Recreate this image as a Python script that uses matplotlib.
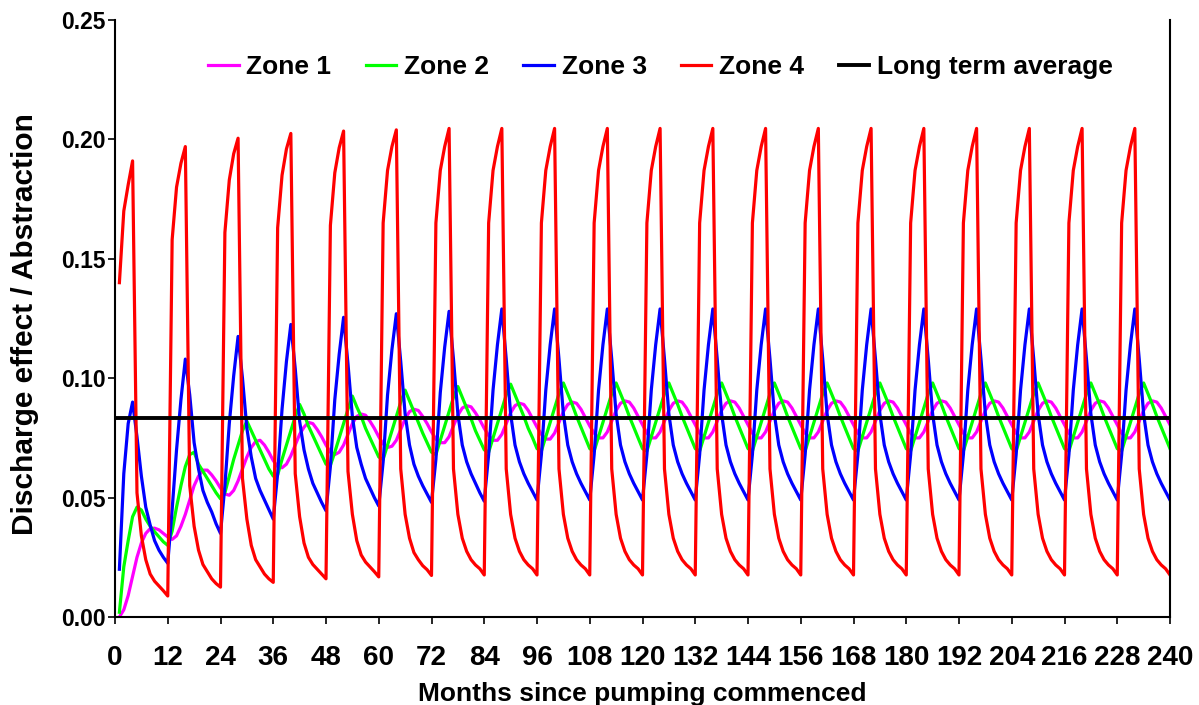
import numpy as np
import matplotlib
matplotlib.use('Agg')
import matplotlib.pyplot as plt

plt.rcParams['font.family'] = ['Liberation Sans', 'DejaVu Sans']
plt.rcParams['font.weight'] = 'bold'

# one row per year, months 1..12 of that year
zone1 = [
    [0.000, 0.003, 0.009, 0.017, 0.025, 0.031, 0.035, 0.037, 0.0372, 0.0365, 0.035, 0.0335],
    [0.0325, 0.034, 0.038, 0.043, 0.049, 0.055, 0.059, 0.0615, 0.0615, 0.0595, 0.057, 0.054],
    [0.0515, 0.051, 0.053, 0.057, 0.062, 0.067, 0.071, 0.0735, 0.074, 0.072, 0.069, 0.0655],
    [0.063, 0.0625, 0.064, 0.0675, 0.072, 0.0765, 0.0795, 0.0815, 0.081, 0.0785, 0.0755, 0.072],
    [0.069, 0.068, 0.069, 0.072, 0.0765, 0.081, 0.084, 0.085, 0.0845, 0.082, 0.079, 0.0755],
    [0.0725, 0.071, 0.0715, 0.074, 0.0785, 0.083, 0.086, 0.087, 0.0865, 0.084, 0.081, 0.0775],
    [0.0745, 0.073, 0.073, 0.0755, 0.080, 0.0845, 0.0875, 0.0885, 0.088, 0.0855, 0.0825, 0.079],
    [0.076, 0.074, 0.074, 0.0765, 0.081, 0.0855, 0.0885, 0.0895, 0.089, 0.0865, 0.083, 0.0795],
    [0.0765, 0.0745, 0.0745, 0.077, 0.0815, 0.086, 0.089, 0.090, 0.0895, 0.087, 0.0835, 0.080],
    [0.077, 0.075, 0.075, 0.0775, 0.082, 0.0865, 0.0895, 0.0905, 0.090, 0.0875, 0.084, 0.0805],
    [0.077, 0.075, 0.075, 0.0775, 0.082, 0.0865, 0.0895, 0.0905, 0.090, 0.0875, 0.084, 0.0805],
    [0.077, 0.075, 0.075, 0.0775, 0.082, 0.0865, 0.0895, 0.0905, 0.090, 0.0875, 0.084, 0.0805],
    [0.077, 0.075, 0.075, 0.0775, 0.082, 0.0865, 0.0895, 0.0905, 0.090, 0.0875, 0.084, 0.0805],
    [0.077, 0.075, 0.075, 0.0775, 0.082, 0.0865, 0.0895, 0.0905, 0.090, 0.0875, 0.084, 0.0805],
    [0.077, 0.075, 0.075, 0.0775, 0.082, 0.0865, 0.0895, 0.0905, 0.090, 0.0875, 0.084, 0.0805],
    [0.077, 0.075, 0.075, 0.0775, 0.082, 0.0865, 0.0895, 0.0905, 0.090, 0.0875, 0.084, 0.0805],
    [0.077, 0.075, 0.075, 0.0775, 0.082, 0.0865, 0.0895, 0.0905, 0.090, 0.0875, 0.084, 0.0805],
    [0.077, 0.075, 0.075, 0.0775, 0.082, 0.0865, 0.0895, 0.0905, 0.090, 0.0875, 0.084, 0.0805],
    [0.077, 0.075, 0.075, 0.0775, 0.082, 0.0865, 0.0895, 0.0905, 0.090, 0.0875, 0.084, 0.0805],
    [0.077, 0.075, 0.075, 0.0775, 0.082, 0.0865, 0.0895, 0.0905, 0.090, 0.0875, 0.084, 0.0805],
]

zone2 = [
    [0.002, 0.021, 0.032, 0.042, 0.046, 0.0448, 0.041, 0.038, 0.0357, 0.0336, 0.0315, 0.030],
    [0.036, 0.046, 0.055, 0.063, 0.068, 0.069, 0.064, 0.061, 0.058, 0.055, 0.052, 0.0495],
    [0.052, 0.059, 0.066, 0.072, 0.078, 0.082, 0.078, 0.074, 0.070, 0.066, 0.062, 0.059],
    [0.0595, 0.066, 0.072, 0.078, 0.084, 0.089, 0.085, 0.080, 0.076, 0.072, 0.068, 0.064],
    [0.0635, 0.069, 0.075, 0.081, 0.087, 0.0925, 0.088, 0.084, 0.079, 0.075, 0.071, 0.067],
    [0.066, 0.072, 0.078, 0.084, 0.090, 0.095, 0.0905, 0.086, 0.0815, 0.077, 0.073, 0.069],
    [0.068, 0.074, 0.080, 0.086, 0.092, 0.0965, 0.092, 0.0875, 0.083, 0.078, 0.074, 0.070],
    [0.069, 0.075, 0.081, 0.087, 0.093, 0.0975, 0.093, 0.0885, 0.084, 0.079, 0.075, 0.0705],
    [0.0695, 0.0755, 0.0815, 0.0875, 0.0935, 0.098, 0.0935, 0.089, 0.084, 0.0795, 0.075, 0.0705],
    [0.0695, 0.0755, 0.0815, 0.0875, 0.0935, 0.098, 0.0935, 0.089, 0.084, 0.0795, 0.075, 0.0705],
    [0.0695, 0.0755, 0.0815, 0.0875, 0.0935, 0.098, 0.0935, 0.089, 0.084, 0.0795, 0.075, 0.0705],
    [0.0695, 0.0755, 0.0815, 0.0875, 0.0935, 0.098, 0.0935, 0.089, 0.084, 0.0795, 0.075, 0.0705],
    [0.0695, 0.0755, 0.0815, 0.0875, 0.0935, 0.098, 0.0935, 0.089, 0.084, 0.0795, 0.075, 0.0705],
    [0.0695, 0.0755, 0.0815, 0.0875, 0.0935, 0.098, 0.0935, 0.089, 0.084, 0.0795, 0.075, 0.0705],
    [0.0695, 0.0755, 0.0815, 0.0875, 0.0935, 0.098, 0.0935, 0.089, 0.084, 0.0795, 0.075, 0.0705],
    [0.0695, 0.0755, 0.0815, 0.0875, 0.0935, 0.098, 0.0935, 0.089, 0.084, 0.0795, 0.075, 0.0705],
    [0.0695, 0.0755, 0.0815, 0.0875, 0.0935, 0.098, 0.0935, 0.089, 0.084, 0.0795, 0.075, 0.0705],
    [0.0695, 0.0755, 0.0815, 0.0875, 0.0935, 0.098, 0.0935, 0.089, 0.084, 0.0795, 0.075, 0.0705],
    [0.0695, 0.0755, 0.0815, 0.0875, 0.0935, 0.098, 0.0935, 0.089, 0.084, 0.0795, 0.075, 0.0705],
    [0.0695, 0.0755, 0.0815, 0.0875, 0.0935, 0.098, 0.0935, 0.089, 0.084, 0.0795, 0.075, 0.0705],
]

zone3 = [
    [0.020, 0.060, 0.081, 0.090, 0.0755, 0.059, 0.046, 0.0385, 0.032, 0.028, 0.025, 0.0225],
    [0.045, 0.070, 0.091, 0.108, 0.093, 0.073, 0.062, 0.053, 0.048, 0.044, 0.039, 0.035],
    [0.055, 0.081, 0.101, 0.1175, 0.100, 0.079, 0.067, 0.058, 0.053, 0.049, 0.045, 0.041],
    [0.060, 0.087, 0.107, 0.1225, 0.104, 0.082, 0.070, 0.062, 0.056, 0.052, 0.048, 0.0445],
    [0.063, 0.091, 0.110, 0.1255, 0.106, 0.084, 0.071, 0.064, 0.058, 0.054, 0.050, 0.0465],
    [0.065, 0.093, 0.112, 0.127, 0.107, 0.085, 0.072, 0.064, 0.059, 0.055, 0.0515, 0.048],
    [0.066, 0.094, 0.113, 0.128, 0.108, 0.085, 0.072, 0.065, 0.060, 0.056, 0.052, 0.0485],
    [0.068, 0.095, 0.114, 0.129, 0.108, 0.085, 0.072, 0.065, 0.060, 0.056, 0.0525, 0.049],
    [0.068, 0.095, 0.114, 0.129, 0.108, 0.085, 0.072, 0.065, 0.060, 0.056, 0.0525, 0.049],
    [0.068, 0.095, 0.114, 0.129, 0.108, 0.085, 0.072, 0.065, 0.060, 0.056, 0.0525, 0.049],
    [0.068, 0.095, 0.114, 0.129, 0.108, 0.085, 0.072, 0.065, 0.060, 0.056, 0.0525, 0.049],
    [0.068, 0.095, 0.114, 0.129, 0.108, 0.085, 0.072, 0.065, 0.060, 0.056, 0.0525, 0.049],
    [0.068, 0.095, 0.114, 0.129, 0.108, 0.085, 0.072, 0.065, 0.060, 0.056, 0.0525, 0.049],
    [0.068, 0.095, 0.114, 0.129, 0.108, 0.085, 0.072, 0.065, 0.060, 0.056, 0.0525, 0.049],
    [0.068, 0.095, 0.114, 0.129, 0.108, 0.085, 0.072, 0.065, 0.060, 0.056, 0.0525, 0.049],
    [0.068, 0.095, 0.114, 0.129, 0.108, 0.085, 0.072, 0.065, 0.060, 0.056, 0.0525, 0.049],
    [0.068, 0.095, 0.114, 0.129, 0.108, 0.085, 0.072, 0.065, 0.060, 0.056, 0.0525, 0.049],
    [0.068, 0.095, 0.114, 0.129, 0.108, 0.085, 0.072, 0.065, 0.060, 0.056, 0.0525, 0.049],
    [0.068, 0.095, 0.114, 0.129, 0.108, 0.085, 0.072, 0.065, 0.060, 0.056, 0.0525, 0.049],
    [0.068, 0.095, 0.114, 0.129, 0.108, 0.085, 0.072, 0.065, 0.060, 0.056, 0.0525, 0.049],
]

zone4 = [
    [0.140, 0.170, 0.181, 0.191, 0.052, 0.034, 0.024, 0.018, 0.015, 0.013, 0.011, 0.0088],
    [0.158, 0.180, 0.190, 0.197, 0.055, 0.038, 0.028, 0.022, 0.019, 0.016, 0.014, 0.0125],
    [0.161, 0.183, 0.194, 0.2005, 0.058, 0.041, 0.030, 0.024, 0.021, 0.018, 0.016, 0.0145],
    [0.163, 0.185, 0.196, 0.2025, 0.060, 0.042, 0.031, 0.025, 0.022, 0.020, 0.018, 0.016],
    [0.164, 0.186, 0.1965, 0.2035, 0.061, 0.043, 0.032, 0.026, 0.023, 0.021, 0.019, 0.0168],
    [0.165, 0.187, 0.197, 0.204, 0.062, 0.043, 0.033, 0.027, 0.024, 0.0215, 0.0198, 0.0174],
    [0.165, 0.187, 0.197, 0.2046, 0.062, 0.043, 0.033, 0.0275, 0.024, 0.0218, 0.0202, 0.0176],
    [0.165, 0.187, 0.197, 0.2046, 0.062, 0.043, 0.033, 0.0275, 0.024, 0.0218, 0.0202, 0.0176],
    [0.165, 0.187, 0.197, 0.2046, 0.062, 0.043, 0.033, 0.0275, 0.024, 0.0218, 0.0202, 0.0176],
    [0.165, 0.187, 0.197, 0.2046, 0.062, 0.043, 0.033, 0.0275, 0.024, 0.0218, 0.0202, 0.0176],
    [0.165, 0.187, 0.197, 0.2046, 0.062, 0.043, 0.033, 0.0275, 0.024, 0.0218, 0.0202, 0.0176],
    [0.165, 0.187, 0.197, 0.2046, 0.062, 0.043, 0.033, 0.0275, 0.024, 0.0218, 0.0202, 0.0176],
    [0.165, 0.187, 0.197, 0.2046, 0.062, 0.043, 0.033, 0.0275, 0.024, 0.0218, 0.0202, 0.0176],
    [0.165, 0.187, 0.197, 0.2046, 0.062, 0.043, 0.033, 0.0275, 0.024, 0.0218, 0.0202, 0.0176],
    [0.165, 0.187, 0.197, 0.2046, 0.062, 0.043, 0.033, 0.0275, 0.024, 0.0218, 0.0202, 0.0176],
    [0.165, 0.187, 0.197, 0.2046, 0.062, 0.043, 0.033, 0.0275, 0.024, 0.0218, 0.0202, 0.0176],
    [0.165, 0.187, 0.197, 0.2046, 0.062, 0.043, 0.033, 0.0275, 0.024, 0.0218, 0.0202, 0.0176],
    [0.165, 0.187, 0.197, 0.2046, 0.062, 0.043, 0.033, 0.0275, 0.024, 0.0218, 0.0202, 0.0176],
    [0.165, 0.187, 0.197, 0.2046, 0.062, 0.043, 0.033, 0.0275, 0.024, 0.0218, 0.0202, 0.0176],
    [0.165, 0.187, 0.197, 0.2046, 0.062, 0.043, 0.033, 0.0275, 0.024, 0.0218, 0.0202, 0.0176],
]

avg_months = [0, 240]
avg_value = [0.0833, 0.0833]

months = np.arange(1, 241)

fig = plt.figure(figsize=(11.99, 7.05), dpi=100)
ax = fig.add_axes([115 / 1199, 1 - 617 / 705, 1055 / 1199, 597 / 705])

ax.plot(months, np.concatenate(zone1), color='#ff00ff', lw=2.3, label='Zone 1')
ax.plot(months, np.concatenate(zone2), color='#00ff00', lw=2.3, label='Zone 2')
ax.plot(months, np.concatenate(zone3), color='#0000ff', lw=2.3, label='Zone 3')
ax.plot(months, np.concatenate(zone4), color='#ff0000', lw=2.3, label='Zone 4')
ax.plot(avg_months, avg_value, color='black', lw=2.8, label='Long term average')

ax.set_xlim(0, 240)
ax.set_ylim(0, 0.25)
ax.set_xticks(np.arange(0, 241, 12))
ax.set_yticks(np.arange(0, 0.251, 0.05))
ax.yaxis.set_major_formatter(matplotlib.ticker.FormatStrFormatter('%.2f'))
ax.tick_params(direction='out', length=5, width=1.2)
ax.tick_params(axis='y', labelsize=16.5, pad=2)
ax.tick_params(axis='x', labelsize=20, pad=15)
for s in ax.spines.values():
    s.set_linewidth(1.5)
ax.spines['top'].set_visible(False)

ax.set_xlabel('Months since pumping commenced', fontsize=19, fontweight='bold', labelpad=8)
ax.set_ylabel('Discharge effect / Abstraction', fontsize=21.5, fontweight='bold')
ax.yaxis.set_label_coords(-0.072, 0.49)

ax.legend(loc='center', bbox_to_anchor=(0.517, 0.921), ncol=5, frameon=False,
          handlelength=1.15, handletextpad=0.3, columnspacing=1.3,
          prop={'weight': 'bold', 'size': 19})

fig.savefig('out.png', dpi=100)
